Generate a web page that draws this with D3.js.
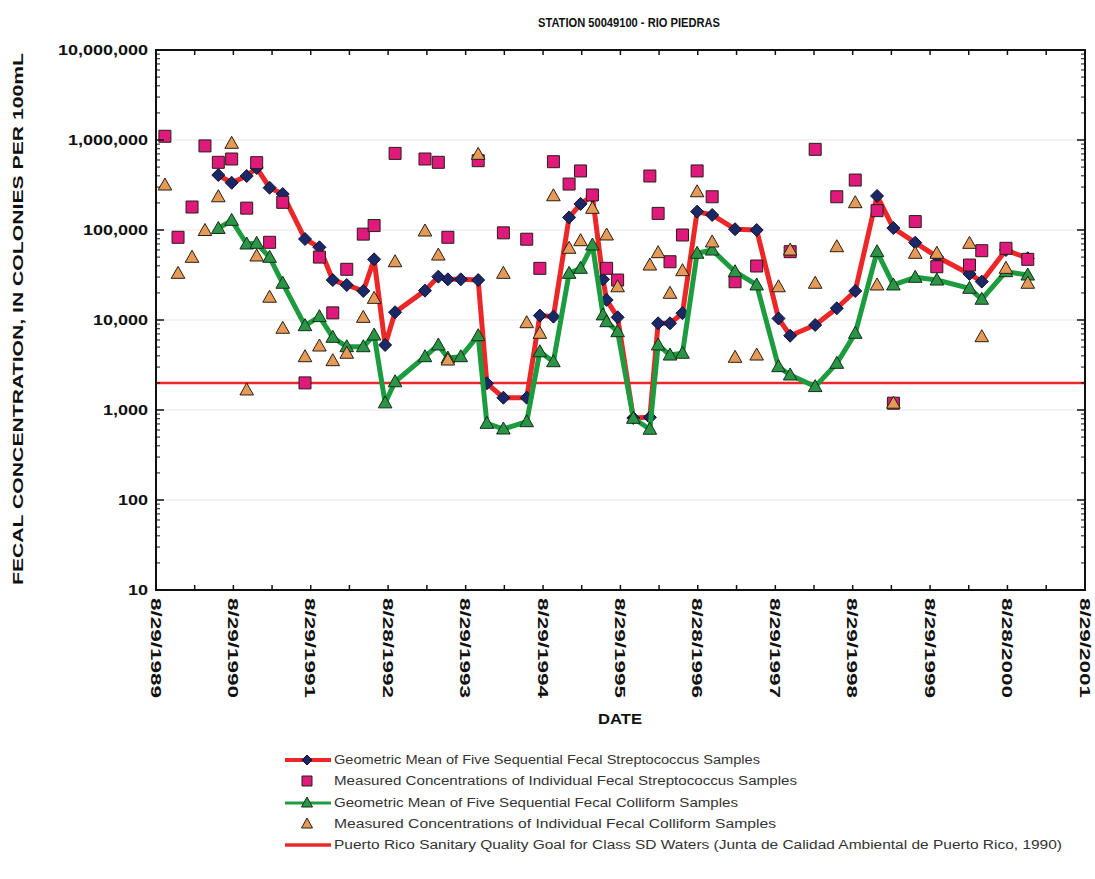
<!DOCTYPE html>
<html><head><meta charset="utf-8">
<script src="https://cdn.jsdelivr.net/npm/d3@7"></script>
<style>
body{margin:0;background:#fff;}
svg text{font-family:Arial,"Liberation Sans",Helvetica,sans-serif;}
</style>
</head><body>
<svg id="chart" width="1095" height="879"></svg>
<script>
// ---------------- DATA ----------------
const chartTitle = "STATION 50049100 - RIO PIEDRAS";
const yAxisTitle = "FECAL CONCENTRATION, IN COLONIES PER 100mL";
const xAxisTitle = "DATE";

const sampleDates = [
  "1989-10-10","1989-12-11","1990-02-15","1990-04-17","1990-06-19","1990-08-21","1990-10-31","1990-12-17",
  "1991-02-16","1991-04-19","1991-08-02","1991-10-09","1991-12-11","1992-02-15","1992-05-03","1992-06-23",
  "1992-08-14","1992-09-30","1993-02-18","1993-04-22","1993-06-06","1993-08-06","1993-10-27","1993-12-07",
  "1994-02-23","1994-06-13","1994-08-14","1994-10-17","1994-12-30","1995-02-22","1995-04-19","1995-06-08",
  "1995-06-25","1995-08-16","1995-10-29","1996-01-15","1996-02-23","1996-04-19","1996-06-17","1996-08-25",
  "1996-11-04","1997-02-20","1997-06-02","1997-09-13","1997-11-07","1998-03-05","1998-06-15","1998-09-10",
  "1998-12-22","1999-03-09","1999-06-20","1999-09-30","2000-03-02","2000-04-29","2000-08-21","2000-12-02"
];

// Measured individual fecal streptococcus samples (null = below plotted range)
const fsSamples = [
  1100000, 83000, 180000, 860000, 565000, 615000, 175000, 560000,
  73000, 203000, 2000, 50000, 12000, 36600, 90000, 112000,
  null, 710000, 615000, 565000, 83000, null, 589000, null,
  93000, 79000, 37500, 574000, 324000, 453000, 245000, null,
  37500, 27800, null, 398000, 153000, 44400, 88000, 453000,
  234000, 26600, 39800, null, 57400, 788000, 234000, 359000,
  164000, 1190, 124000, 39100, 40800, 58900, 62600, 47200
];

// Measured individual fecal coliform samples
const fcSamples = [
  316000, 33000, 49700, 98700, 234000, 919000, 1670, 51400,
  17900, 8090, 3910, 5140, 3530, 4270, 10700, 17400,
  null, 44400, 97500, 52700, 3590, null, 693000, null,
  33000, 9330, 7110, 240000, 62600, 76000, 174000, null,
  88000, 23400, null, 40800, 56000, 19800, 35300, 266000,
  73600, 3850, 4080, 23400, 59900, 25600, 65200, 201000,
  24500, 1190, 55100, 55100, 71100, 6520, 37500, 25600
];

// Geometric mean of five sequential fecal streptococcus samples
const fsGeoMean = [
  null, null, null, null, 408000, 335000, 398000, 489000,
  295000, 251000, 79400, 64200, 27800, 24500, 21000, 47200,
  5280, 12200, 21200, 30300, 28300, 28300, 27800, 1980,
  1370, 1370, 11200, 10900, 138000, 195000, 239000, 28300,
  16700, 10700, 815, 829, 9190, 9190, 11900, 160000,
  147000, 102000, 100000, 10400, 6690, 8800, 13500, 21000,
  239000, 105000, 72300, 50500, 32500, 26700, 59900, 48500
];

// Geometric mean of five sequential fecal coliform samples
const fcGeoMean = [
  null, null, null, null, 104000, 128000, 69900, 71100,
  49700, 25600, 8650, 10900, 6420, 5050, 5050, 6810,
  1200, 2060, 3910, 5280, 3780, 3910, 6690, 711,
  615, 741, 4440, 3440, 33000, 37500, 68100, 11400,
  9570, 7410, 809, 611, 5280, 4080, 4270, 55100,
  59900, 34400, 24500, 3030, 2450, 1820, 3300, 7110,
  57400, 24500, 29800, 27800, 22500, 17000, 34400, 31600
];

const goalValue = 2000;

const yTickValues = [10, 100, 1000, 10000, 100000, 1000000, 10000000];
const xTickLabels = ["8/29/1989","8/29/1990","8/29/1991","8/28/1992","8/29/1993","8/29/1994",
  "8/29/1995","8/28/1996","8/29/1997","8/29/1998","8/29/1999","8/28/2000","8/29/2001"];

const legendLabels = [
  "Geometric Mean of Five Sequential Fecal Streptococcus Samples",
  "Measured Concentrations of Individual Fecal Streptococcus Samples",
  "Geometric Mean of Five Sequential Fecal Colliform Samples",
  "Measured Concentrations of Individual Fecal Colliform Samples",
  "Puerto Rico Sanitary Quality Goal for Class SD Waters (Junta de Calidad Ambiental de Puerto Rico, 1990)"
];

// ---------------- STYLE ----------------
const C = {
  red: "#ec2727", green: "#1c9c3e", greenFill: "#2c9446", navy: "#1c2866",
  pink: "#e0197d", orange: "#e59a57", stroke: "#2a1e14", grid: "#e6e6e6"
};
const M = {left: 156, right: 1085, top: 50, bottom: 590};
const legendTextEnds = [760, 797, 738, 776, 1062];

// ---------------- CHART ----------------
const svg = d3.select("#chart");
const parse = d3.timeParse("%Y-%m-%d");
const parseTick = d3.timeParse("%m/%d/%Y");
const tickDates = xTickLabels.map(parseTick);

const x = d3.scaleTime().domain([tickDates[0], tickDates[tickDates.length - 1]]).range([M.left, M.right]);
const y = d3.scaleLog().domain([10, 1e7]).range([M.bottom, M.top]);

const dates = sampleDates.map(parse);
const rows = dates.map((d, i) => ({d, fs: fsSamples[i], fc: fcSamples[i], fsg: fsGeoMean[i], fcg: fcGeoMean[i]}));

// gridlines
svg.append("g").selectAll("line").data(yTickValues.slice(1, -1)).join("line")
  .attr("x1", M.left).attr("x2", M.right)
  .attr("y1", d => y(d)).attr("y2", d => y(d))
  .attr("stroke", C.grid).attr("stroke-width", 1);

const plot = svg.append("g");

// goal line
plot.append("line").attr("x1", M.left).attr("x2", M.right)
  .attr("y1", y(goalValue)).attr("y2", y(goalValue))
  .attr("stroke", C.red).attr("stroke-width", 2.5);

// symbols
const diamondPath = "M0,-6.5L6.5,0L0,6.5L-6.5,0Z";
const squarePath = "M-6,-6H6V6H-6Z";
const triPath = "M0,-7L6.8,5L-6.8,5Z";

// FS geometric mean
const fsgRows = rows.filter(r => r.fsg != null);
plot.append("path").datum(fsgRows)
  .attr("fill", "none").attr("stroke", C.red).attr("stroke-width", 5).attr("stroke-linejoin", "round")
  .attr("d", d3.line().x(r => x(r.d)).y(r => y(r.fsg)));
plot.append("g").selectAll("path").data(fsgRows).join("path")
  .attr("d", diamondPath).attr("transform", r => `translate(${x(r.d)},${y(r.fsg)})`)
  .attr("fill", C.navy).attr("stroke", "#0c1233").attr("stroke-width", 1);

// FS samples
plot.append("g").selectAll("path").data(rows.filter(r => r.fs != null)).join("path")
  .attr("d", squarePath).attr("transform", r => `translate(${x(r.d)},${y(r.fs)})`)
  .attr("fill", C.pink).attr("stroke", C.stroke).attr("stroke-width", 1);

// FC geometric mean
const fcgRows = rows.filter(r => r.fcg != null);
plot.append("path").datum(fcgRows)
  .attr("fill", "none").attr("stroke", C.green).attr("stroke-width", 5).attr("stroke-linejoin", "round")
  .attr("d", d3.line().x(r => x(r.d)).y(r => y(r.fcg)));
plot.append("g").selectAll("path").data(fcgRows).join("path")
  .attr("d", triPath).attr("transform", r => `translate(${x(r.d)},${y(r.fcg)})`)
  .attr("fill", C.greenFill).attr("stroke", "#103018").attr("stroke-width", 1);

// FC samples
plot.append("g").selectAll("path").data(rows.filter(r => r.fc != null)).join("path")
  .attr("d", triPath).attr("transform", r => `translate(${x(r.d)},${y(r.fc)})`)
  .attr("fill", C.orange).attr("stroke", C.stroke).attr("stroke-width", 1);

// frame
svg.append("rect").attr("x", M.left).attr("y", M.top)
  .attr("width", M.right - M.left).attr("height", M.bottom - M.top)
  .attr("fill", "none").attr("stroke", "#111").attr("stroke-width", 2);

// y ticks (log, inward) left & right
const minorY = [];
for (let dec = 10; dec < 1e7; dec *= 10) for (let m = 2; m <= 9; m++) minorY.push(dec * m);
const tickG = svg.append("g").attr("stroke", "#111");
[[M.left, 1], [M.right, -1]].forEach(([x0, dir]) => {
  tickG.append("g").selectAll("line").data(yTickValues).join("line")
    .attr("x1", x0).attr("x2", x0 + dir * 8).attr("y1", d => y(d)).attr("y2", d => y(d)).attr("stroke-width", 1.5);
  tickG.append("g").selectAll("line").data(minorY).join("line")
    .attr("x1", x0).attr("x2", x0 + dir * 4).attr("y1", d => y(d)).attr("y2", d => y(d)).attr("stroke-width", 1);
});
// x ticks: yearly + half-year, inward top & bottom
const xTicks = [];
tickDates.forEach((d, i) => {
  xTicks.push(d);
  if (i < tickDates.length - 1) xTicks.push(new Date((d.getTime() + tickDates[i + 1].getTime()) / 2));
});
[[M.top, 1], [M.bottom, -1]].forEach(([y0, dir]) => {
  tickG.append("g").selectAll("line").data(xTicks).join("line")
    .attr("x1", d => x(d)).attr("x2", d => x(d)).attr("y1", y0).attr("y2", y0 + dir * 5).attr("stroke-width", 1.5);
});

// y tick labels
const fmt = d3.format(",");
const yLab = svg.append("g").selectAll("text").data(yTickValues).join("text")
  .attr("x", 148).attr("y", d => y(d)).attr("dy", "0.36em")
  .attr("text-anchor", "end").attr("font-size", 15).attr("font-weight", "bold").attr("fill", "#111")
  .text(d => fmt(d));
yLab.each(function(){ const w = this.getComputedTextLength(); d3.select(this).attr("textLength", w * 1.2).attr("lengthAdjust", "spacingAndGlyphs"); });

// x tick labels (rotated)
svg.append("g").selectAll("text").data(xTickLabels).join("text")
  .attr("transform", (t, i) => `translate(${x(tickDates[i])},598) rotate(90)`)
  .attr("dy", "0.36em").attr("text-anchor", "start")
  .attr("font-size", 15).attr("font-weight", "bold").attr("fill", "#111")
  .attr("textLength", 100).attr("lengthAdjust", "spacingAndGlyphs")
  .text(t => t);

// titles
svg.append("text").attr("x", 629).attr("y", 27).attr("text-anchor", "middle")
  .attr("font-size", 13.5).attr("font-weight", "bold").attr("fill", "#111")
  .attr("textLength", 182).attr("lengthAdjust", "spacingAndGlyphs").text(chartTitle);
svg.append("text").attr("x", 620).attr("y", 724).attr("text-anchor", "middle")
  .attr("font-size", 15).attr("font-weight", "bold").attr("fill", "#111")
  .attr("textLength", 44).attr("lengthAdjust", "spacingAndGlyphs").text(xAxisTitle);
svg.append("text").attr("transform", "translate(23,319) rotate(-90)").attr("text-anchor", "middle")
  .attr("font-size", 14.5).attr("font-weight", "bold").attr("fill", "#111")
  .attr("textLength", 532).attr("lengthAdjust", "spacingAndGlyphs").text(yAxisTitle);

// legend
const legY = [760, 781, 803, 824, 845];
const lg = svg.append("g");
const lx0 = 285, lx1 = 331, lmx = 307, tx = 334;
lg.append("line").attr("x1", lx0).attr("x2", lx1).attr("y1", legY[0]).attr("y2", legY[0]).attr("stroke", C.red).attr("stroke-width", 4);
lg.append("path").attr("d", "M0,-5L5,0L0,5L-5,0Z").attr("transform", `translate(${lmx},${legY[0]})`).attr("fill", C.navy).attr("stroke", "#0c1233");
lg.append("path").attr("d", "M-5,-5H5V5H-5Z").attr("transform", `translate(${lmx},${legY[1]})`).attr("fill", C.pink).attr("stroke", C.stroke);
lg.append("line").attr("x1", lx0).attr("x2", lx1).attr("y1", legY[2]).attr("y2", legY[2]).attr("stroke", C.green).attr("stroke-width", 3);
lg.append("path").attr("d", "M0,-6L5.5,4L-5.5,4Z").attr("transform", `translate(${lmx},${legY[2]})`).attr("fill", C.greenFill).attr("stroke", "#103018");
lg.append("path").attr("d", "M0,-6L5.5,4L-5.5,4Z").attr("transform", `translate(${lmx},${legY[3]})`).attr("fill", C.orange).attr("stroke", C.stroke);
lg.append("line").attr("x1", lx0).attr("x2", lx1).attr("y1", legY[4]).attr("y2", legY[4]).attr("stroke", C.red).attr("stroke-width", 3.5);

lg.selectAll("text.l").data(legendLabels).join("text").attr("class", "l")
  .attr("x", tx).attr("y", (d, i) => legY[i]).attr("dy", "0.36em")
  .attr("font-size", 12).attr("fill", "#333")
  .attr("textLength", (d, i) => legendTextEnds[i] - tx).attr("lengthAdjust", "spacingAndGlyphs")
  .text(d => d);
</script>
</body></html>
